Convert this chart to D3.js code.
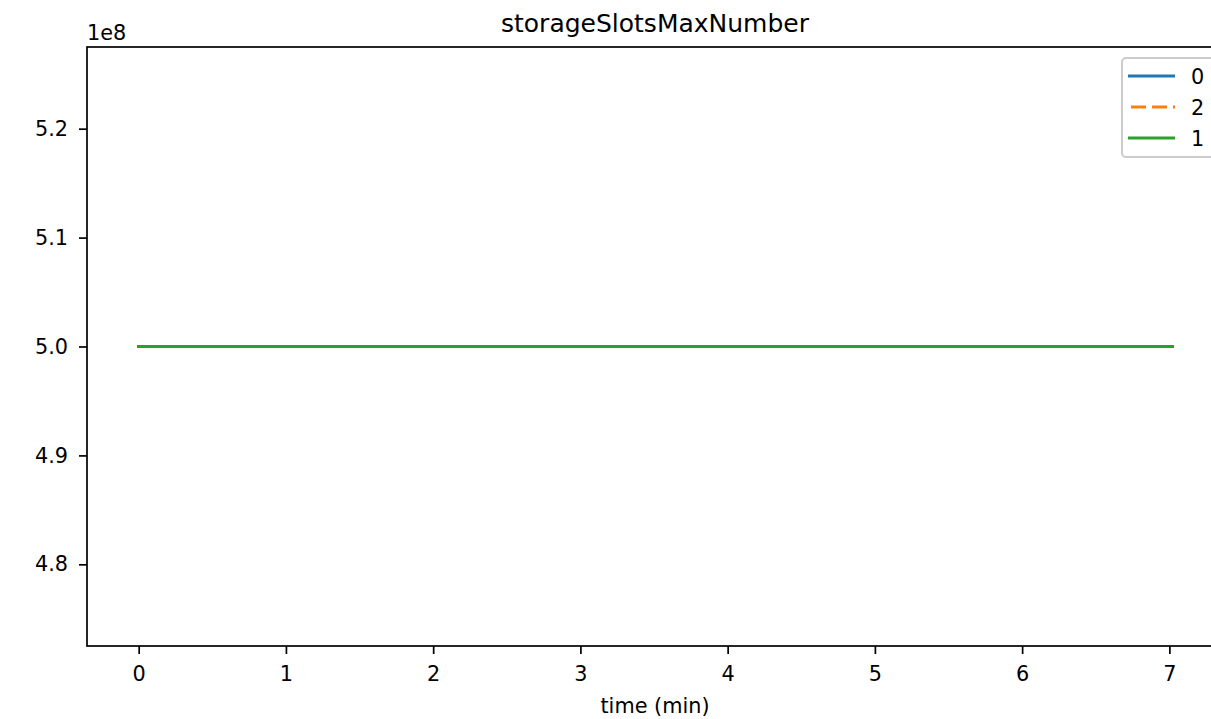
<!DOCTYPE html>
<html>
<head>
<meta charset="utf-8">
<script src="https://cdn.jsdelivr.net/npm/d3@7"></script>
<style>
  html, body { margin: 0; padding: 0; background: #fff; }
  svg { display: block; font-family: "DejaVu Sans", sans-serif; }
</style>
</head>
<body>
<svg id="chart" width="1211" height="719"></svg>
<script>
// ---- data ----
const chartTitle = "storageSlotsMaxNumber";
const xLabel = "time (min)";
const times = [0, 0.5, 1, 1.5, 2, 2.5, 3, 3.5, 4, 4.5, 5, 5.5, 6, 6.5, 7, 7.02];
const series0 = [5e8, 5e8, 5e8, 5e8, 5e8, 5e8, 5e8, 5e8, 5e8, 5e8, 5e8, 5e8, 5e8, 5e8, 5e8, 5e8];
const series2 = [5e8, 5e8, 5e8, 5e8, 5e8, 5e8, 5e8, 5e8, 5e8, 5e8, 5e8, 5e8, 5e8, 5e8, 5e8, 5e8];
const series1 = [5e8, 5e8, 5e8, 5e8, 5e8, 5e8, 5e8, 5e8, 5e8, 5e8, 5e8, 5e8, 5e8, 5e8, 5e8, 5e8];
const seriesNames = ["0", "2", "1"];
const xTicks = [0, 1, 2, 3, 4, 5, 6, 7];
const yTicks = [4.8e8, 4.9e8, 5.0e8, 5.1e8, 5.2e8];
const yOffsetLabel = "1e8";

const seriesList = [
  {name: seriesNames[0], values: series0, color: "#1f77b4", dash: null},
  {name: seriesNames[1], values: series2, color: "#ff7f0e", dash: "15,6"},
  {name: seriesNames[2], values: series1, color: "#2ca02c", dash: null}
];

// ---- layout ----
const svg = d3.select("#chart");
const plot = {left: 87, right: 1224, top: 47, bottom: 646};

const x = d3.scaleLinear().domain([-0.351, 7.371]).range([plot.left, plot.right]);
const y = d3.scaleLinear().domain([4.725e8, 5.275e8]).range([plot.bottom, plot.top]);

// clip
svg.append("defs").append("clipPath").attr("id", "clip")
  .append("rect").attr("x", plot.left).attr("y", plot.top)
  .attr("width", plot.right - plot.left).attr("height", plot.bottom - plot.top);

// lines
const line = d3.line().x((d, i) => x(times[i])).y(d => y(d));
seriesList.forEach(s => {
  svg.append("path")
    .attr("clip-path", "url(#clip)")
    .attr("d", line(s.values))
    .attr("fill", "none")
    .attr("stroke", s.color)
    .attr("stroke-width", 3.2)
    .attr("stroke-linecap", s.dash ? "butt" : "square")
    .attr("stroke-dasharray", s.dash);
});

// axes
const xAxis = d3.axisBottom(x).tickValues(xTicks).tickFormat(d3.format("d"))
  .tickSize(8).tickPadding(12);
const gx = svg.append("g").attr("transform", `translate(0,${plot.bottom})`).call(xAxis);
const yAxis = d3.axisLeft(y).tickValues(yTicks).tickFormat(d => (d / 1e8).toFixed(1))
  .tickSize(8).tickPadding(11);
const gy = svg.append("g").attr("transform", `translate(${plot.left},0)`).call(yAxis);
[gx, gy].forEach(g => {
  g.select(".domain").remove();
  g.selectAll(".tick line").attr("stroke", "#000").attr("stroke-width", 1.7);
  g.selectAll(".tick text").attr("fill", "#000").attr("font-size", 20.8)
    .attr("font-family", "DejaVu Sans, sans-serif");
});

// spines
const sp = svg.append("g").attr("stroke", "#000").attr("stroke-width", 1.7).attr("fill", "none");
sp.append("rect").attr("x", plot.left).attr("y", plot.top)
  .attr("width", plot.right - plot.left).attr("height", plot.bottom - plot.top);

// texts
svg.append("text").attr("x", 655).attr("y", 32).attr("text-anchor", "middle")
  .attr("font-size", 25).attr("fill", "#000").text(chartTitle);
svg.append("text").attr("x", 655).attr("y", 713).attr("text-anchor", "middle")
  .attr("font-size", 20.8).attr("fill", "#000").text(xLabel);
svg.append("text").attr("x", 87).attr("y", 40).attr("text-anchor", "start")
  .attr("font-size", 20.8).attr("fill", "#000").text(yOffsetLabel);

// legend
const lg = svg.append("g");
lg.append("rect").attr("x", 1122).attr("y", 58).attr("width", 110).attr("height", 99)
  .attr("rx", 4).attr("fill", "#fff").attr("fill-opacity", 0.8)
  .attr("stroke", "#cccccc").attr("stroke-width", 2);
seriesList.forEach((s, i) => {
  const cy = 76 + i * 31;
  lg.append("line").attr("x1", 1128).attr("x2", 1175).attr("y1", cy).attr("y2", cy)
    .attr("stroke", s.color).attr("stroke-width", 3.2)
    .attr("stroke-dasharray", s.dash)
    .attr("stroke-dashoffset", s.dash ? -3 : null);
  lg.append("text").attr("x", 1191).attr("y", cy + 7.5).attr("font-size", 20.8)
    .attr("fill", "#000").text(s.name);
});
</script>
</body>
</html>
